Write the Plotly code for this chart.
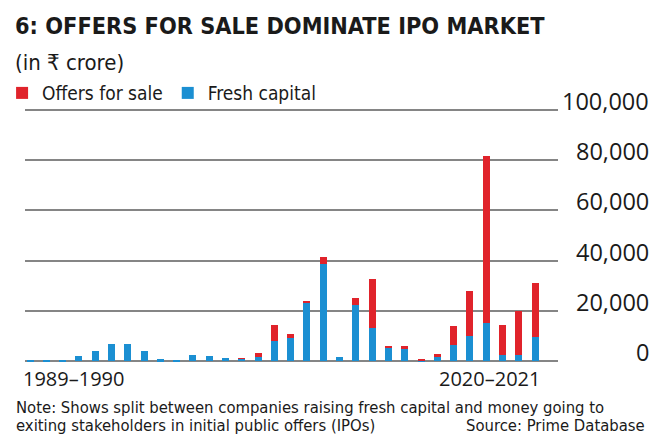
import plotly.graph_objects as go

years = ["1989–1990", "1990–1991", "1991–1992", "1992–1993", "1993–1994", "1994–1995",
         "1995–1996", "1996–1997", "1997–1998", "1998–1999", "1999–2000", "2000–2001",
         "2001–2002", "2002–2003", "2003–2004", "2004–2005", "2005–2006", "2006–2007",
         "2007–2008", "2008–2009", "2009–2010", "2010–2011", "2011–2012", "2012–2013",
         "2013–2014", "2014–2015", "2015–2016", "2016–2017", "2017–2018", "2018–2019",
         "2019–2020", "2020–2021"]

fresh_capital = [300, 500, 500, 1900, 3900, 6800, 6700, 3900, 700, 200, 2400, 2200,
                 1100, 1000, 1700, 7900, 9100, 23100, 38600, 1800, 22300, 13400,
                 5300, 4700, 300, 1800, 6600, 10100, 15100, 2300, 2300, 9500]

offers_for_sale = [0, 0, 0, 0, 0, 0, 0, 0, 0, 0, 0, 0,
                   0, 100, 1400, 6700, 1700, 800, 2800, 0, 2700, 19400,
                   500, 1400, 500, 900, 7600, 17800, 66500, 12300, 17700, 21500]

y_tick_vals = [0, 20000, 40000, 60000, 80000, 100000]
y_tick_text = ["0", "20,000", "40,000", "60,000", "80,000", "100,000"]

RED = "#e0232b"
BLUE = "#1b8fd2"
GRID = "#858585"
TXT = "#1a1a1a"
NARROW = "DejaVu Sans Condensed, DejaVu Sans, sans-serif"
BODY = "Open Sans, Roboto, sans-serif"

fig = go.Figure()
fig.add_trace(go.Bar(x=years, y=fresh_capital, name="Fresh capital",
                     marker=dict(color=BLUE, line=dict(width=0))))
fig.add_trace(go.Bar(x=years, y=offers_for_sale, name="Offers for sale",
                     marker=dict(color=RED, line=dict(width=0))))

annotations = []
# title / subtitle
annotations.append(dict(text="<b>6: OFFERS FOR SALE DOMINATE IPO MARKET</b>", xref="paper", yref="paper",
                        x=0, y=1, xanchor="left", yanchor="middle", xshift=-12, yshift=81, showarrow=False,
                        font=dict(family=NARROW, size=23.3, color=TXT)))
annotations.append(dict(text="(in ₹ crore)", xref="paper", yref="paper",
                        x=0, y=1, xanchor="left", yanchor="middle", xshift=-12, yshift=44, showarrow=False,
                        font=dict(family=NARROW, size=22, color=TXT)))
# y tick labels on the right
for v, t in zip(y_tick_vals, y_tick_text):
    annotations.append(dict(text=t, xref="paper", yref="y", x=1, y=v, xanchor="right",
                            yanchor="middle", xshift=93, yshift=9, showarrow=False,
                            font=dict(family=BODY, size=23.5, color=TXT)))
# first / last category labels
annotations.append(dict(text=years[0], xref="x", yref="paper", x=years[0], y=0,
                        xanchor="left", yanchor="middle", xshift=-9, yshift=-13, showarrow=False,
                        font=dict(family=BODY, size=20, color=TXT)))
annotations.append(dict(text=years[-1], xref="x", yref="paper", x=years[-1], y=0,
                        xanchor="right", yanchor="middle", xshift=7, yshift=-13, showarrow=False,
                        font=dict(family=BODY, size=20, color=TXT)))
# note and source
annotations.append(dict(text="Note: Shows split between companies raising fresh capital and money going to",
                        xref="paper", yref="paper", x=0, y=0, xanchor="left", yanchor="middle",
                        xshift=-11, yshift=-42.5, showarrow=False,
                        font=dict(family=NARROW, size=16.5, color=TXT)))
annotations.append(dict(text="exiting stakeholders in initial public offers (IPOs)",
                        xref="paper", yref="paper", x=0, y=0, xanchor="left", yanchor="middle",
                        xshift=-11, yshift=-60.5, showarrow=False,
                        font=dict(family=NARROW, size=16.5, color=TXT)))
annotations.append(dict(text="Source: Prime Database", xref="paper", yref="paper", x=1, y=0,
                        xanchor="right", yanchor="middle", xshift=89, yshift=-60.5, showarrow=False,
                        font=dict(family=NARROW, size=16.5, color=TXT)))

fig.update_layout(
    width=670, height=445, autosize=False,
    margin=dict(l=25, r=112, t=106, b=80, pad=0, autoexpand=False),
    paper_bgcolor="white", plot_bgcolor="white",
    barmode="stack", bargap=0.57,
    showlegend=True,
    legend=dict(orientation="h", x=-0.043, y=1.05, xanchor="left", yanchor="middle",
                traceorder="reversed", font=dict(family=NARROW, size=19, color=TXT),
                itemwidth=30, bgcolor="rgba(0,0,0,0)", tracegroupgap=0),
    xaxis=dict(type="category", range=[-0.31, 32.41], showticklabels=False, showgrid=False,
               zeroline=False, showline=False, ticks=""),
    yaxis=dict(range=[-1500, 101500], tickvals=y_tick_vals, showticklabels=False,
               showgrid=True, gridcolor=GRID, gridwidth=1.5, zeroline=False,
               showline=False, ticks=""),
    annotations=annotations,
)

fig.write_html("out.html", config={"displayModeBar": False},
               post_script="document.body.style.margin='0';document.body.style.padding='0';")
